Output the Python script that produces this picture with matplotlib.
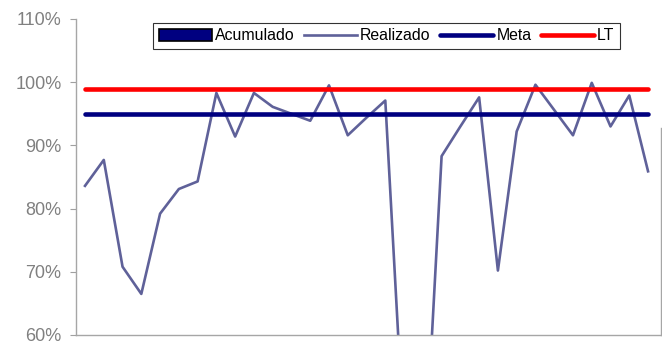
import matplotlib.pyplot as plt
from matplotlib.patches import Patch
from matplotlib.lines import Line2D
from matplotlib.ticker import PercentFormatter, MultipleLocator

plt.rcParams['font.family'] = ['Liberation Sans', 'DejaVu Sans']

# percent realised per period
realizado = [83.6, 87.7, 70.8, 66.5, 79.2, 83.1, 84.3, 98.3, 91.4, 98.3,
             96.1, 95.0, 93.9, 99.5, 91.6, 94.4, 97.1, 43.0, 33.2, 88.3,
             93.0, 97.6, 70.2, 92.2, 99.6, 95.6, 91.6, 99.9, 93.0, 97.9,
             85.9]
periodos = list(range(1, len(realizado) + 1))
meta = 95.0
lt = 99.0

fig = plt.figure(figsize=(6.62, 3.45), dpi=100)
ax = fig.add_axes([76 / 662, 10 / 345, 585 / 662, 316 / 345])

ax.plot(periodos, realizado, color='#5f6199', lw=1.9, zorder=2)
ax.hlines(meta, periodos[0], periodos[-1], color='#000080', lw=3.3,
          capstyle='round', zorder=3)
ax.hlines(lt, periodos[0], periodos[-1], color='#ff0000', lw=3.3,
          capstyle='round', zorder=4)

ax.set_ylim(60, 110)
ax.set_xlim(periodos[0] - 0.48, periodos[-1] + 0.69)
ax.yaxis.set_major_locator(MultipleLocator(10))
ax.yaxis.set_major_formatter(PercentFormatter(100, decimals=0))
ax.set_xticks([])
ax.tick_params(axis='y', direction='out', length=4.5, width=0.8,
               color='#a0a0a0', labelcolor='#808080', labelsize=13, pad=6)

ax.spines['top'].set_visible(False)
for s in ['left', 'bottom', 'right']:
    ax.spines[s].set_color('#a6a6a6')
    ax.spines[s].set_linewidth(1.0)
ax.spines['right'].set_bounds(60, 92.8)

handles = [
    Patch(facecolor='#000080', edgecolor='black', linewidth=1.2),
    Line2D([], [], color='#5f6199', lw=1.9),
    Line2D([], [], color='#000080', lw=3.3, solid_capstyle='round'),
    Line2D([], [], color='#ff0000', lw=3.3, solid_capstyle='round'),
]
labels = ['Acumulado', 'Realizado', 'Meta', 'LT']
leg = fig.legend(handles, labels, loc='center', ncol=4,
                 bbox_to_anchor=(386.5 / 662, 1 - 36 / 345),
                 fontsize=11.4, frameon=True, fancybox=False, shadow=False,
                 handlelength=3.35, handleheight=0.75, handletextpad=0.2,
                 columnspacing=0.6, borderpad=0.35, borderaxespad=0)
leg.get_frame().set_edgecolor('black')
leg.get_frame().set_linewidth(0.8)

fig.savefig('out.png', dpi=100)
